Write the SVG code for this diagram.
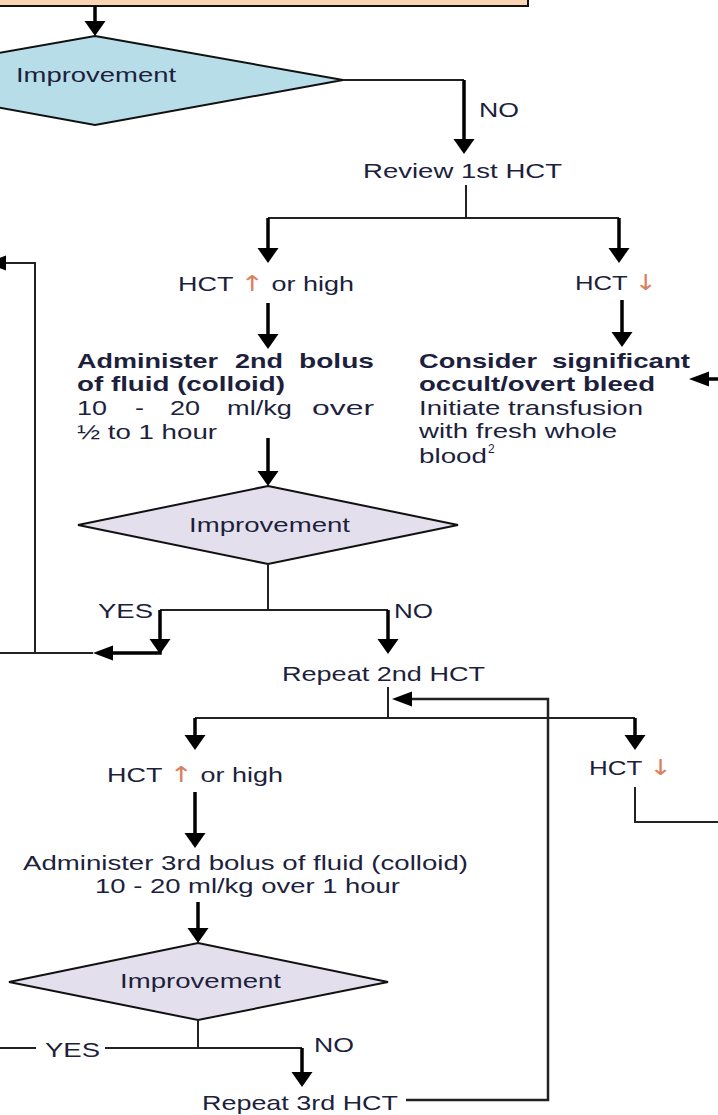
<svg xmlns="http://www.w3.org/2000/svg" xmlns:xlink="http://www.w3.org/1999/xlink" width="718" height="1115" viewBox="0 0 718 1115">
<style>
.t{font-family:"Liberation Sans",Arial,sans-serif;font-size:21px;fill:#1d1f3d}
.b{font-weight:bold}
.hl{fill:#d9805f;font-family:"DejaVu Sans",sans-serif;font-size:22px}
.thin{stroke:#222;stroke-width:2;fill:none}
.thick{stroke:#000;stroke-width:3.5;fill:none}
.arr{fill:#000}
.dia{stroke:#111;stroke-width:2}
</style>
<defs>
<path id="ad" d="M-10.5,-15 L10.5,-15 L0,0 Z"/>
<path id="al" d="M0,0 L20,-7.5 L20,7.5 Z"/>
</defs>
<rect width="718" height="1115" fill="#fff"/>

<g id="start-box">
<rect x="-5" y="-20" width="533" height="26" fill="#fbd4b4" stroke="#111" stroke-width="2"/>
</g>

<g id="improvement-1">
<polygon class="dia" points="95,36 343,80 95,125 -153,80" fill="#b7dde8"/>
<text class="t" x="16" y="82" textLength="160" lengthAdjust="spacingAndGlyphs">Improvement</text>
</g>
<g id="label-no-1"><text class="t" x="479" y="117" textLength="40" lengthAdjust="spacingAndGlyphs">NO</text></g>
<g id="review-1st"><text class="t" x="363" y="178" textLength="199" lengthAdjust="spacingAndGlyphs">Review 1st HCT</text></g>
<g id="hct-high-1"><text class="t" x="178" y="291" textLength="176" lengthAdjust="spacingAndGlyphs">HCT <tspan class="hl">↑</tspan> or high</text></g>
<g id="hct-low-1"><text class="t" x="575" y="290" textLength="82" lengthAdjust="spacingAndGlyphs">HCT <tspan class="hl">↓</tspan></text></g>

<g id="second-bolus">
<text class="t b" x="77" y="368" textLength="141" lengthAdjust="spacingAndGlyphs">Administer</text>
<text class="t b" x="235" y="368" textLength="48" lengthAdjust="spacingAndGlyphs">2nd</text>
<text class="t b" x="299" y="368" textLength="75" lengthAdjust="spacingAndGlyphs">bolus</text>
<text class="t b" x="77" y="391" textLength="208" lengthAdjust="spacingAndGlyphs">of fluid (colloid)</text>
<text class="t" x="77" y="415" textLength="30" lengthAdjust="spacingAndGlyphs">10</text>
<text class="t" x="135" y="415" textLength="9" lengthAdjust="spacingAndGlyphs">-</text>
<text class="t" x="170" y="415" textLength="30" lengthAdjust="spacingAndGlyphs">20</text>
<text class="t" x="227" y="415" textLength="65" lengthAdjust="spacingAndGlyphs">ml/kg</text>
<text class="t" x="312" y="415" textLength="62" lengthAdjust="spacingAndGlyphs">over</text>
<text class="t" x="77" y="439" textLength="140" lengthAdjust="spacingAndGlyphs">½ to 1 hour</text>
</g>

<g id="bleed">
<text class="t b" x="419" y="368" textLength="118" lengthAdjust="spacingAndGlyphs">Consider</text>
<text class="t b" x="552" y="368" textLength="138" lengthAdjust="spacingAndGlyphs">significant</text>
<text class="t b" x="419" y="391" textLength="236" lengthAdjust="spacingAndGlyphs">occult/overt bleed</text>
<text class="t" x="419" y="415" textLength="224" lengthAdjust="spacingAndGlyphs">Initiate transfusion</text>
<text class="t" x="419" y="438" textLength="198" lengthAdjust="spacingAndGlyphs">with fresh whole</text>
<text class="t" x="419" y="463" textLength="68" lengthAdjust="spacingAndGlyphs">blood</text>
<text class="t" x="488" y="453" style="font-size:12px">2</text>
</g>

<g id="improvement-2">
<polygon class="dia" points="268,486 458,525 268,564 78,525" fill="#e4dfec"/>
<text class="t" x="189" y="532" textLength="161" lengthAdjust="spacingAndGlyphs">Improvement</text>
</g>
<g id="label-yes-2"><text class="t" x="98" y="618" textLength="55" lengthAdjust="spacingAndGlyphs">YES</text></g>
<g id="label-no-2"><text class="t" x="394" y="618" textLength="39" lengthAdjust="spacingAndGlyphs">NO</text></g>
<g id="repeat-2nd"><text class="t" x="282" y="681" textLength="203" lengthAdjust="spacingAndGlyphs">Repeat 2nd HCT</text></g>
<g id="hct-low-2"><text class="t" x="589" y="775" textLength="83" lengthAdjust="spacingAndGlyphs">HCT <tspan class="hl">↓</tspan></text></g>
<g id="hct-high-2"><text class="t" x="107" y="782" textLength="176" lengthAdjust="spacingAndGlyphs">HCT <tspan class="hl">↑</tspan> or high</text></g>
<g id="third-bolus">
<text class="t" x="23" y="870" textLength="445" lengthAdjust="spacingAndGlyphs">Administer 3rd bolus of fluid (colloid)</text>
<text class="t" x="95" y="893" textLength="305" lengthAdjust="spacingAndGlyphs">10 - 20 ml/kg over 1 hour</text>
</g>
<g id="improvement-3">
<polygon class="dia" points="198,943 388,982 198,1020 9,982" fill="#e4dfec"/>
<text class="t" x="120" y="988" textLength="161" lengthAdjust="spacingAndGlyphs">Improvement</text>
</g>
<g id="label-yes-3"><text class="t" x="45" y="1057" textLength="55" lengthAdjust="spacingAndGlyphs">YES</text></g>
<g id="label-no-3"><text class="t" x="314" y="1052" textLength="40" lengthAdjust="spacingAndGlyphs">NO</text></g>
<g id="repeat-3rd"><text class="t" x="202" y="1110" textLength="196" lengthAdjust="spacingAndGlyphs">Repeat 3rd HCT</text></g>

<g id="connectors">
<path class="thick" d="M95,6 V22"/><use href="#ad" class="arr" x="95" y="36"/>
<path class="thin" d="M343,80 H464"/>
<path class="thick" d="M464,80 V140"/><use href="#ad" class="arr" x="464" y="154"/>
<path class="thin" d="M466,185 V218 M268,218 H619"/>
<path class="thick" d="M268,218 V249"/><use href="#ad" class="arr" x="268" y="263"/>
<path class="thick" d="M619,218 V249"/><use href="#ad" class="arr" x="619" y="263"/>
<path class="thick" d="M268,303 V335"/><use href="#ad" class="arr" x="268" y="349"/>
<path class="thick" d="M622,300 V333"/><use href="#ad" class="arr" x="622" y="347"/>
<path class="thick" d="M718,379 H705"/><use href="#al" class="arr" x="689" y="379"/>
<path class="thick" d="M268,438 V472"/><use href="#ad" class="arr" x="268" y="486"/>
<path class="thin" d="M268,564 V610 M160,610 H388"/>
<path class="thick" d="M160,610 V653 H110"/><use href="#ad" class="arr" x="160" y="654"/><use href="#al" class="arr" x="93" y="653"/>
<path class="thin" d="M93,653 H0 M35,653 V263 H0"/><use href="#al" class="arr" x="-14" y="263"/>
<path class="thick" d="M388,610 V640"/><use href="#ad" class="arr" x="388" y="654"/>
<path class="thin" d="M388,687 V718 M195,718 H635"/>
<path class="thick" d="M195,718 V736"/><use href="#ad" class="arr" x="195" y="750"/>
<path class="thick" d="M635,718 V736"/><use href="#ad" class="arr" x="635" y="750"/>
<path class="thin" d="M635,787 V822 H718"/>
<path class="thick" d="M195,792 V834"/><use href="#ad" class="arr" x="195" y="848"/>
<path class="thick" d="M198,902 V929"/><use href="#ad" class="arr" x="198" y="943"/>
<path class="thin" d="M198,1020 V1048 M105,1048 H302 M0,1048 H36"/>
<path class="thick" d="M302,1048 V1073"/><use href="#ad" class="arr" x="302" y="1087"/>
<path class="thin" d="M406,1100 H548 V699 H410" style="stroke-width:2.5"/><use href="#al" class="arr" x="392" y="699"/>
</g>
</svg>
